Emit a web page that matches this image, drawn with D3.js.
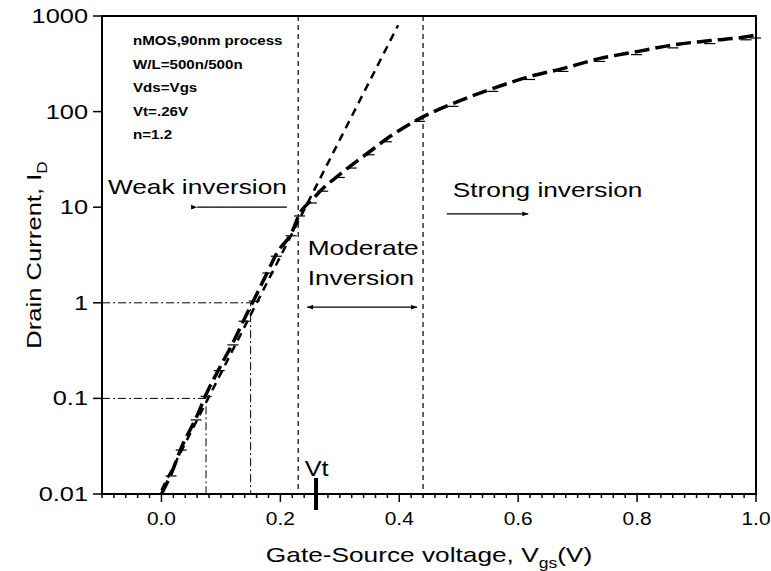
<!DOCTYPE html>
<html>
<head>
<meta charset="utf-8">
<script src="https://cdn.jsdelivr.net/npm/d3@7"></script>
<style>
  body { margin: 0; background: #fff; }
  text { font-family: "Liberation Sans", Arial, sans-serif; fill: #000; }
</style>
</head>
<body>
<svg id="chart"></svg>
<script>
// measured drain current (data curve)
var vgs = [0.0, 0.017, 0.034, 0.059, 0.076, 0.098, 0.121, 0.14, 0.157, 0.18, 0.194, 0.219, 0.233,
           0.253, 0.272, 0.30, 0.32, 0.35, 0.379, 0.435, 0.491, 0.558, 0.62, 0.676, 0.738, 0.80,
           0.861, 0.923, 0.984, 1.0];
var id = [0.01, 0.0166, 0.031, 0.064, 0.113, 0.21, 0.39, 0.69, 1.12, 2.2, 3.3, 5.4, 8.7,
          11.9, 15.8, 22, 27.6, 38, 52, 85, 122, 175, 233, 283, 360, 424, 499, 553, 606, 633];

// ideal subthreshold exponential (dashed straight line)
var refVgs = [0.0, 0.398];
var refId = [0.011, 800];

var xTicks = [0.0, 0.2, 0.4, 0.6, 0.8, 1.0];
var xTickLabels = ["0.0", "0.2", "0.4", "0.6", "0.8", "1.0"];
var yTicks = [0.01, 0.1, 1, 10, 100, 1000];
var yTickLabels = ["0.01", "0.1", "1", "10", "100", "1000"];

var regionBounds = [0.23, 0.44];
var projVgs = [0.075, 0.15];
var projId = [0.1, 1];
var vt = 0.26;

var notes = ["nMOS,90nm process", "W/L=500n/500n", "Vds=Vgs", "Vt=.26V", "n=1.2"];

var margin = {top: 16, right: 15, bottom: 77, left: 102};
var width = 771 - margin.left - margin.right;
var height = 571 - margin.top - margin.bottom;

var svgRoot = d3.select("#chart")
    .attr("width", 771)
    .attr("height", 571);

var defs = svgRoot.append("defs");
["left", "right"].forEach(function(dir) {
  defs.append("marker")
      .attr("id", "head-" + dir)
      .attr("viewBox", "0 0 10 10")
      .attr("refX", dir == "right" ? 10 : 0)
      .attr("refY", 5)
      .attr("markerWidth", 9)
      .attr("markerHeight", 6)
      .attr("markerUnits", "userSpaceOnUse")
      .attr("orient", "auto")
      .append("path")
      .attr("d", dir == "right" ? "M0,1L10,5L0,9Z" : "M10,1L0,5L10,9Z")
      .attr("fill", "#000");
});

var svg = svgRoot.append("g")
    .attr("transform", "translate(" + margin.left + "," + margin.top + ")");

var x = d3.scaleLinear().domain([-0.1, 1.0]).range([0, width]);
var y = d3.scaleLog().domain([0.01, 1000]).range([height, 0]);

// text helper, glyphs are a bit wider in the original
function label(txt, px, py, size, sx, anchor) {
  return svg.append("text")
      .attr("transform", "translate(" + px + "," + py + ") scale(" + sx + ",1)")
      .attr("font-size", size)
      .attr("text-anchor", anchor || "start")
      .text(txt);
}

// x axis: minor ticks every 0.02, majors every 0.2
var minor = d3.range(-0.1, 1.0001, 0.02).map((d) => Math.round(d * 100) / 100);
svg.append("g")
    .selectAll("line")
    .data(minor)
    .enter()
    .append("line")
    .attr("x1", (d) => x(d))
    .attr("x2", (d) => x(d))
    .attr("y1", height)
    .attr("y2", (d) => height + (xTicks.indexOf(d) >= 0 ? 8 : 4))
    .attr("stroke", "#000")
    .attr("stroke-width", 1.5);

svg.append("g")
    .selectAll("text")
    .data(xTicks)
    .enter()
    .append("text")
    .attr("transform", (d) => "translate(" + x(d) + "," + (height + 31) + ") scale(1.1,1)")
    .attr("text-anchor", "middle")
    .attr("font-size", 19)
    .text((d, i) => xTickLabels[i]);

// y axis ticks
svg.append("g")
    .selectAll("line")
    .data(yTicks)
    .enter()
    .append("line")
    .attr("x1", -9)
    .attr("x2", 0)
    .attr("y1", (d) => y(d))
    .attr("y2", (d) => y(d))
    .attr("stroke", "#000")
    .attr("stroke-width", 1.5);

svg.append("g")
    .selectAll("text")
    .data(yTicks)
    .enter()
    .append("text")
    .attr("transform", (d) => "translate(-14," + (y(d) + 7) + ") scale(1.3,1)")
    .attr("text-anchor", "end")
    .attr("font-size", 19.5)
    .text((d, i) => yTickLabels[i]);

// region boundaries
svg.append("g")
    .selectAll("line")
    .data(regionBounds)
    .enter()
    .append("line")
    .attr("x1", (d) => x(d))
    .attr("x2", (d) => x(d))
    .attr("y1", 0)
    .attr("y2", height)
    .attr("stroke", "#000")
    .attr("stroke-width", 1.2)
    .attr("stroke-dasharray", "5,4");

// dash-dot projection lines
projVgs.forEach(function(v, i) {
  svg.append("path")
      .attr("d", "M0," + y(projId[i]) + "H" + x(v) + "V" + height)
      .attr("fill", "none")
      .attr("stroke", "#000")
      .attr("stroke-width", 1)
      .attr("stroke-dasharray", "8,3,2,3");
});

// ideal exponential line
svg.append("line")
    .attr("x1", x(refVgs[0]))
    .attr("y1", y(refId[0]))
    .attr("x2", x(refVgs[1]))
    .attr("y2", y(refId[1]))
    .attr("stroke", "#000")
    .attr("stroke-width", 2.5)
    .attr("stroke-dasharray", "8,6");

// data curve
var pts = vgs.map((v, i) => [v, id[i]]);
var line = d3.line()
    .x((d) => x(d[0]))
    .y((d) => y(d[1]))
    .curve(d3.curveMonotoneX);

svg.append("path")
    .datum(pts)
    .attr("d", line)
    .attr("fill", "none")
    .attr("stroke", "#000")
    .attr("stroke-width", 3.5)
    .attr("stroke-dasharray", "15,6");

svg.append("g")
    .selectAll("line")
    .data(pts.slice(1))
    .enter()
    .append("line")
    .attr("x1", (d) => x(d[0]) - 6)
    .attr("x2", (d) => x(d[0]) + 5)
    .attr("y1", (d) => y(d[1]) + 3)
    .attr("y2", (d) => y(d[1]) + 3)
    .attr("stroke", "#000")
    .attr("stroke-width", 1.2);

// frame
svg.append("rect")
    .attr("width", width)
    .attr("height", height)
    .attr("fill", "none")
    .attr("stroke", "#000")
    .attr("stroke-width", 2);

// Vt marker
svg.append("line")
    .attr("x1", x(vt))
    .attr("x2", x(vt))
    .attr("y1", height - 16)
    .attr("y2", height + 16)
    .attr("stroke", "#000")
    .attr("stroke-width", 4);
label("Vt", x(0.241), y(0.0154), 22, 1.15);

// annotations
label("Weak inversion", x(-0.09), y(13.7), 21, 1.25);
label("Moderate", x(0.246), y(3.16), 21, 1.25);
label("Inversion", x(0.246), y(1.53), 21, 1.25);
label("Strong inversion", x(0.49), y(12.8), 21, 1.25);

function arrow(v1, v2, i0, both) {
  svg.append("line")
      .attr("x1", x(v1))
      .attr("x2", x(v2))
      .attr("y1", y(i0))
      .attr("y2", y(i0))
      .attr("stroke", "#000")
      .attr("stroke-width", 1.3)
      .attr("marker-start", both ? "url(#head-left)" : null)
      .attr("marker-end", "url(#head-" + (v2 > v1 ? "right" : "left") + ")");
}
arrow(0.211, 0.06, 10);
arrow(0.48, 0.617, 8.5);
arrow(0.245, 0.43, 0.9, true);

// process notes
notes.forEach(function(t, i) {
  label(t, 31, 29 + i * 23.5, 13.5, 1.12).attr("font-weight", "bold");
});

// axis titles
var xt = label("Gate-Source voltage, V", width / 2, height + 68, 21, 1.25, "middle");
xt.append("tspan").attr("font-size", 14).attr("dy", 6).text("gs");
xt.append("tspan").attr("dy", -6).text("(V)");

var yt = svg.append("text")
    .attr("transform", "translate(-61," + (height / 2) + ") rotate(-90) scale(1.22,1)")
    .attr("text-anchor", "middle")
    .attr("font-size", 21)
    .text("Drain Current, I");
yt.append("tspan").attr("font-size", 14).attr("dy", 6).text("D");
</script>
</body>
</html>
